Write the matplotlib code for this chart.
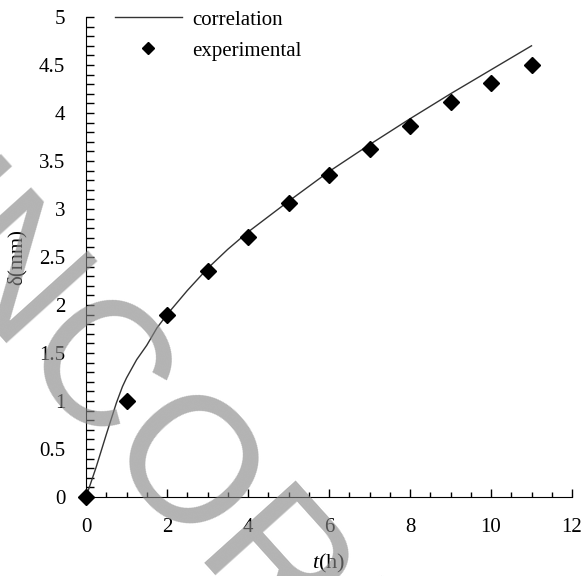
import matplotlib
matplotlib.use('Agg')
import matplotlib.pyplot as plt
from matplotlib.ticker import MultipleLocator, FormatStrFormatter

plt.rcParams['font.family'] = 'Liberation Serif'
plt.rcParams['mathtext.fontset'] = 'custom'
plt.rcParams['mathtext.rm'] = 'Liberation Serif'
plt.rcParams['mathtext.it'] = 'Liberation Serif:italic'

# correlation curve
t_corr = [0, 0.25, 0.5, 0.75, 0.9, 1.0, 1.25, 1.5, 1.75, 2, 2.5, 3, 3.5, 4, 5, 6, 7, 8, 9, 10, 11]
d_corr = [0, 0.31, 0.65, 0.98, 1.15, 1.24, 1.43, 1.58, 1.76, 1.90, 2.15, 2.38, 2.58, 2.76, 3.08,
          3.39, 3.67, 3.94, 4.20, 4.45, 4.70]

# experimental points
t_exp = [0, 1, 2, 3, 4, 5, 6, 7, 8, 9, 10, 11]
d_exp = [0, 1.00, 1.90, 2.35, 2.71, 3.06, 3.35, 3.62, 3.86, 4.11, 4.31, 4.50]

fig = plt.figure(figsize=(5.85, 5.76), dpi=100)
ax = fig.add_axes([86 / 585, 1 - 497 / 576, 486 / 585, 480 / 576])

ax.plot(t_corr, d_corr, color='#333333', lw=1.0, label='correlation')
ax.plot(t_exp, d_exp, 'D', color='black', ms=8, clip_on=False, zorder=5, label='experimental')

ax.set_xlim(0, 12)
ax.set_ylim(0, 5)
ax.spines['top'].set_visible(False)
ax.spines['right'].set_visible(False)
ax.xaxis.set_major_locator(MultipleLocator(2))
ax.xaxis.set_minor_locator(MultipleLocator(0.5))
ax.yaxis.set_major_locator(MultipleLocator(0.5))
ax.yaxis.set_minor_locator(MultipleLocator(0.1))
ax.yaxis.set_major_formatter(FormatStrFormatter('%g'))
ax.tick_params(which='both', direction='in', width=1, labelsize=15, pad=15)
ax.tick_params(axis='y', which='both', length=5.5)
ax.tick_params(axis='x', which='major', length=5.5)
ax.tick_params(axis='x', which='minor', length=3.5)

ax.set_xlabel(r'$t$(h)', fontsize=16)
ax.xaxis.set_label_coords(0.5, -0.115)
ax.set_ylabel('δ(mm)', fontsize=15)
ax.yaxis.set_label_coords(-0.122, 0.5)

leg = ax.legend(loc='upper left', bbox_to_anchor=(115 / 585, 1 - 10 / 576),
                bbox_transform=fig.transFigure, frameon=False, fontsize=15,
                handlelength=3.2, handletextpad=0.5, labelspacing=0.55, markerscale=0.8,
                borderpad=0, borderaxespad=0)

# watermark
fig.text(-0.267, 0.717, 'UNCORRECTED PROOF', family='Liberation Sans', fontsize=128,
         color='#878787', alpha=0.63, rotation=-48, rotation_mode='anchor',
         ha='left', va='baseline', zorder=10)

fig.savefig('out.png', dpi=100)
